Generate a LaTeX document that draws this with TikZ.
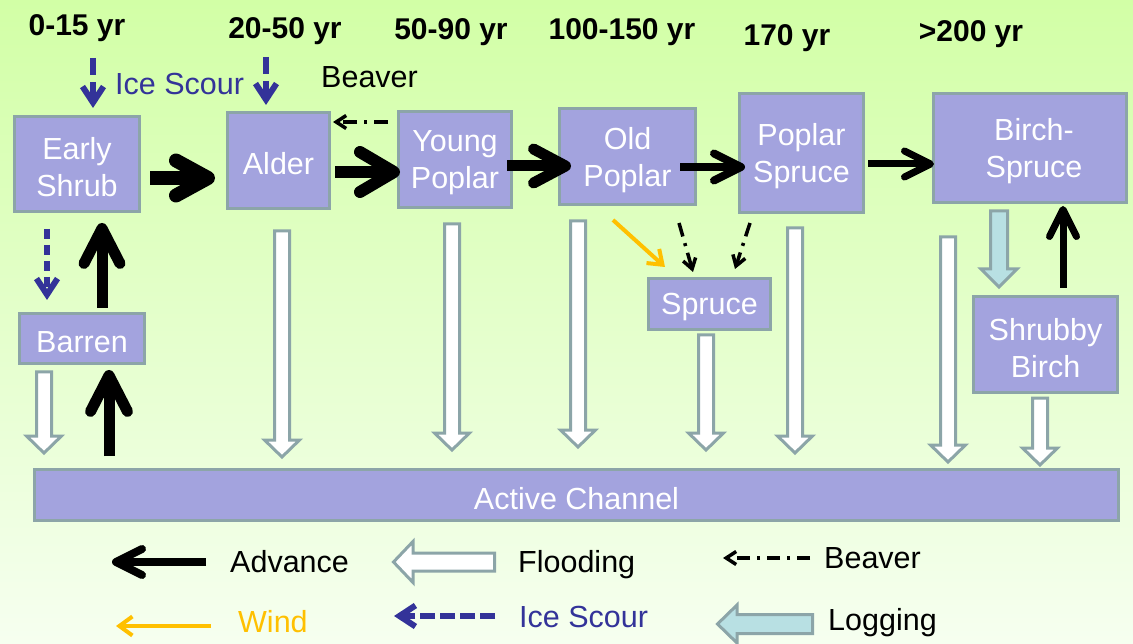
\documentclass[tikz,border=0pt]{standalone}
\usepackage{fontspec}
\setmainfont{Liberation Sans}
\usetikzlibrary{arrows.meta,calc}
\definecolor{boxfill}{HTML}{A3A3DE}
\definecolor{boxline}{HTML}{8CA5A8}
\definecolor{iceblue}{HTML}{333399}
\definecolor{windorange}{HTML}{FFC000}
\definecolor{logblue}{HTML}{B8E0E3}
\definecolor{bgtop}{HTML}{D2FFA6}
\definecolor{bgbot}{HTML}{F6FFF0}
% vertical block arrow: #1 style, #2 start (top), #3 tip, #4 shaft half width, #5 head half width, #6 head length
\newcommand\blockdown[6]{%
  \draw[#1] let \p1=#2, \p2=#3 in
    (\x1-#4,\y1) -- (\x1+#4,\y1) -- (\x1+#4,\y2+#6) -- (\x1+#5,\y2+#6) --
    (\x1,\y2) -- (\x1-#5,\y2+#6) -- (\x1-#4,\y2+#6) -- cycle;}
\begin{document}
\begin{tikzpicture}[x=1pt,y=-1pt,
  box/.style={draw=boxline, fill=boxfill, line width=3pt, inner sep=0pt},
  btext/.style={text=white, align=center, inner sep=0pt, yshift=-3.5pt,
    font=\fontsize{30.5}{37}\selectfont},
  hdr/.style={anchor=base, inner sep=0pt, font=\fontsize{30}{34}\selectfont\bfseries},
  lbl/.style={anchor=base west, inner sep=0pt, font=\fontsize{30.5}{34}\selectfont},
  adv/.style n args={3}{draw=black, line width=#1, -{Straight Barb[round,length=#2,width=#3]}},
  ice/.style={draw=iceblue, line width=6pt, dash pattern=on 17pt off 7pt,
    -{Straight Barb[length=16pt,width=21pt]}},
  beav/.style={draw=black, line width=3.5pt, dash pattern=on 14pt off 7pt on 3pt off 7pt,
    -{Straight Barb[length=10pt,width=13pt]}},
  wind/.style={draw=windorange, line width=4pt, -{Straight Barb[length=13pt,width=19pt]}},
  flood/.style={draw=boxline, fill=white, line width=3pt, line join=miter},
  logst/.style={draw=boxline, fill=logblue, line width=3pt, line join=miter}]

\shade[top color=bgtop, bottom color=bgbot] (0,0) rectangle (1133,644);
\useasboundingbox (0,0) rectangle (1133,644);

% headers
\node[hdr] (h1) at (77,36) {0-15 yr};
\node[hdr] (h2) at (285,39) {20-50 yr};
\node[hdr] (h3) at (451,40) {50-90 yr};
\node[hdr] (h4) at (622,40) {100-150 yr};
\node[hdr] (h5) at (787,46) {170 yr};
\node[hdr] (h6) at (971,42) {>200 yr};

\node[lbl, text=iceblue] (icelbl) at (115,95) {Ice Scour};
\node[lbl] (beavlbl) at (321,88) {Beaver};

% boxes
\node[box, minimum width=125pt, minimum height=95pt] (es) at (77,164) {};
\node[btext] (est) at (es) {Early\\Shrub};
\node[box, minimum width=102pt, minimum height=96pt] (alder) at (278.5,160.5) {};
\node[btext] (aldert) at (alder) {Alder};
\node[box, minimum width=113pt, minimum height=96pt] (yp) at (455,159.5) {};
\node[btext] (ypt) at (yp) {Young\\Poplar};
\node[box, minimum width=136pt, minimum height=96pt] (op) at (627.5,156.5) {};
\node[btext] (opt) at (op) {Old\\Poplar};
\node[box, minimum width=124pt, minimum height=119pt] (ps) at (801.5,153) {};
\node[btext] (pst) at (ps) {Poplar\\Spruce};
\node[box, minimum width=193pt, minimum height=109pt] (bs) at (1030,148) {};
\node[btext] (bst) at ($(bs)+(4,0)$) {Birch-\\Spruce};
\node[box, minimum width=122pt, minimum height=51pt] (spruce) at (709.5,304) {};
\node[btext] (sprucet) at (spruce) {Spruce};
\node[box, minimum width=144pt, minimum height=96pt] (sb) at (1045.5,344.5) {};
\node[btext] (sbt) at (sb) {Shrubby\\Birch};
\node[box, minimum width=125pt, minimum height=50pt] (barren) at (82,338.5) {};
\node[btext] (barrent) at (barren) {Barren};
\node[box, minimum width=1084pt, minimum height=51pt] (ac) at (576.5,495) {};
\node[btext] (act) at (ac) {Active Channel};

% flooding arrows
\blockdown{flood}{($(barren.south)+(-38,7)$)}{($(ac.north)+(0,-15)$)}{7.5pt}{17.5pt}{17pt}
\blockdown{flood}{($(alder.south)+(3.5,21)$)}{($(ac.north)+(0,-11)$)}{7.5pt}{17.5pt}{17pt}
\blockdown{flood}{($(yp.south)+(-3,15)$)}{($(ac.north)+(0,-18)$)}{7.5pt}{17.5pt}{17pt}
\blockdown{flood}{($(op.south)+(-49.5,15)$)}{($(ac.north)+(0,-21)$)}{7.5pt}{17.5pt}{17pt}
\blockdown{flood}{($(spruce.south)+(-3.5,4)$)}{($(ac.north)+(0,-18)$)}{7.5pt}{17.5pt}{17pt}
\blockdown{flood}{($(ps.south)+(-6.5,14)$)}{($(ac.north)+(0,-15)$)}{7.5pt}{17.5pt}{17pt}
\blockdown{flood}{($(bs.south)+(-82,33)$)}{($(ac.north)+(0,-6)$)}{7.5pt}{17.5pt}{17pt}
\blockdown{flood}{($(sb.south)+(-5.5,4)$)}{($(ac.north)+(0,-3)$)}{7.5pt}{17.5pt}{17pt}
% logging
\blockdown{logst}{($(bs.south)+(-31,7)$)}{($(sb.north)+(0,-8)$)}{8.5pt}{18pt}{18pt}

% advance arrows
\draw[adv={14pt}{32pt}{35pt}] ($(es.east)+(9,14)$) -- ($(alder.west)+(-11,17.5)$);
\draw[adv={12pt}{34pt}{40pt}] ($(alder.east)+(4,11.5)$) -- ($(yp.west)+(3,12.5)$);
\draw[adv={11pt}{32pt}{34pt}] ($(yp.east)+(-6,6.5)$) -- ($(op.west)+(13,9.5)$);
\draw[adv={8pt}{27pt}{27pt}] ($(op.east)+(-17,10.5)$) -- ($(ps.west)+(7,14)$);
\draw[adv={7pt}{26pt}{26pt}] ($(ps.east)+(3,11)$) -- ($(bs.west)+(2,16)$);
\draw[adv={11pt}{35pt}{36pt}] ($(barren.north)+(20,-4)$) -- ($(es.south)+(25,10)$);
\draw[adv={11pt}{36pt}{37pt}] ($(ac.north west)+(76,-12)$) -- ($(barren.south)+(27,5)$);
\draw[adv={7pt}{27pt}{27pt}] ($(sb.north)+(17.5,-7)$) -- ($(bs.south)+(33,2)$);

% ice scour
\draw[ice] ($(es.north)+(16,-57)$) -- ($(es.north)+(16,-7)$);
\draw[ice] ($(alder.north)+(-12.5,-54)$) -- ($(alder.north)+(-12.5,-6)$);
\draw[ice, dash pattern=on 10pt off 6pt] ($(es.south)+(-30,16)$) -- ($(barren.north)+(-35,-12)$);

% beaver
\draw[beav] ($(yp.west)+(-9,-37.5)$) -- ($(alder.east)+(2,-38.5)$);
\draw[beav] ($(op.south)+(51.5,17)$) -- ($(spruce.north)+(-16.5,-5)$);
\draw[beav] ($(ps.south)+(-51.5,9)$) -- ($(spruce.north)+(25.5,-8)$);

% wind
\draw[wind] ($(op.south)+(-14.5,14)$) -- ($(spruce.north west)+(18,-10)$);

% legend
\coordinate (advA) at (206,562);
\coordinate (advB) at (112,562);
\draw[adv={8pt}{26pt}{26pt}] (advA) -- (advB);
\node[lbl] (advlbl) at (230,572) {Advance};

\draw[flood] (393.5,562) -- (413,541.5) -- (413,553) -- (494.5,553) -- (494.5,571) -- (413,571) -- (413,582.5) -- cycle;
\node[lbl] (floodlbl) at (518,572) {Flooding};

\coordinate (bvA) at (810,558);
\coordinate (bvB) at (723,558);
\draw[beav, dash pattern=on 13pt off 7pt on 3pt off 7pt] (bvA) -- (bvB);
\node[lbl] (bvlbl) at (824,568) {Beaver};

\coordinate (wdA) at (211,626);
\coordinate (wdB) at (116,626);
\draw[wind] (wdA) -- (wdB);
\node[lbl, text=windorange] (wdlbl) at (238,632) {Wind};

\coordinate (icA) at (495,616);
\coordinate (icB) at (394,616);
\draw[ice, dash pattern=on 15pt off 5pt] (icA) -- (icB);
\node[lbl, text=iceblue] (iclbl) at (519,627) {Ice Scour};

\draw[logst] (717.5,624) -- (737,605) -- (737,614.5) -- (812.5,614.5) -- (812.5,633.5) -- (737,633.5) -- (737,643) -- cycle;
\node[lbl] (loglbl) at (828,630) {Logging};

\end{tikzpicture}
\end{document}
